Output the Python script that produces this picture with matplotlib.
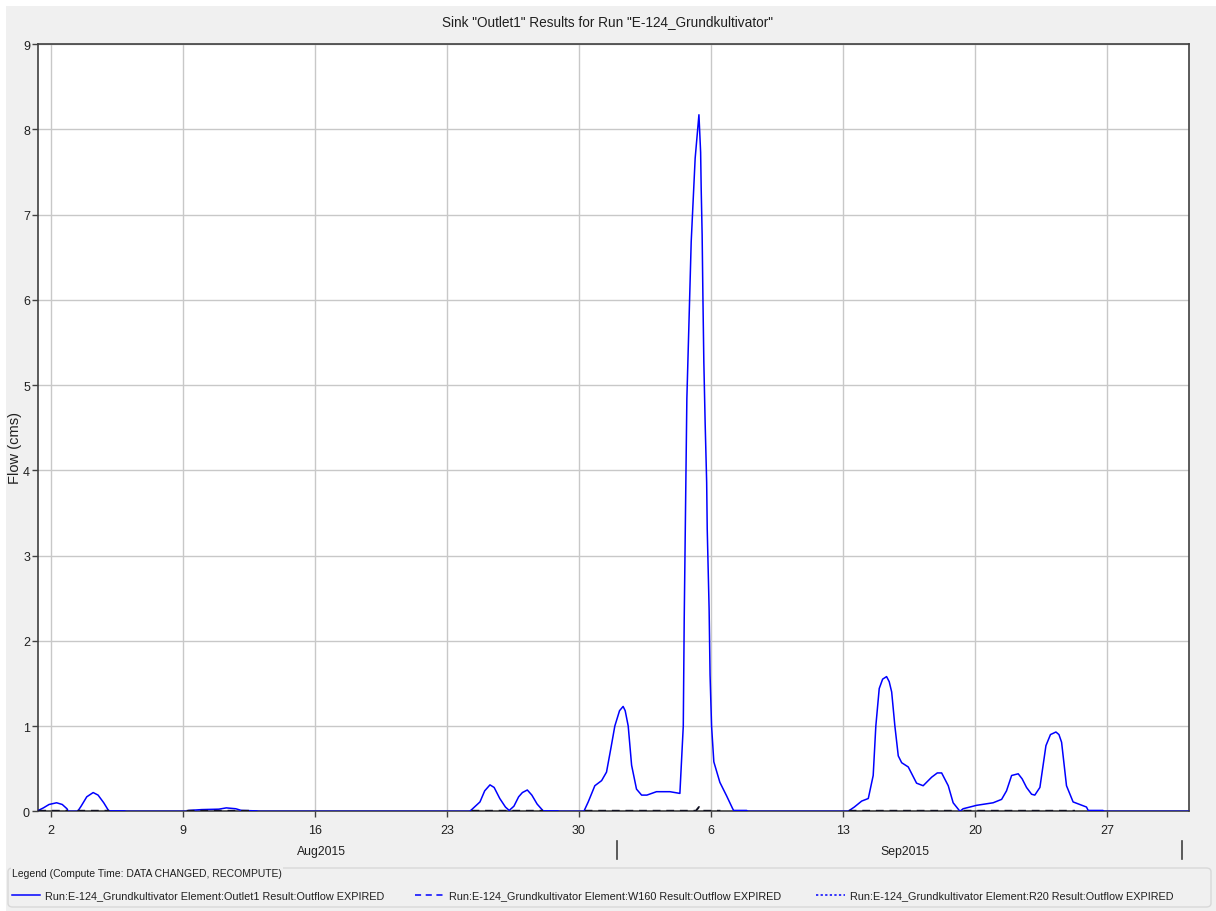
import numpy as np
import matplotlib
matplotlib.use("Agg")
import matplotlib.pyplot as plt
import matplotlib.dates as mdates
import matplotlib.transforms as mtransforms
from matplotlib.lines import Line2D
from matplotlib.patches import Rectangle, FancyBboxPatch
from datetime import datetime

plt.rcParams['font.family'] = ['Liberation Sans', 'DejaVu Sans']

# days since 2015-08-01 00:00
outlet_days = [0.33, 0.6, 0.9, 1.30, 1.6, 1.85, 1.92, 2.42, 2.6, 2.9, 3.24, 3.5, 3.8, 4.05, 4.1, 4.9, 5.0,
               8.2, 8.3, 9.0, 9.9, 10.3, 10.8, 11.1, 11.9, 12.0,
               23.2, 23.31, 23.6, 23.75, 24.0, 24.28, 24.5, 24.8, 25.1, 25.30, 25.55, 25.8, 26.0, 26.26,
               26.5, 26.78, 27.0, 27.10, 27.88, 27.95,
               29.26, 29.49, 29.84, 30.20, 30.46, 30.70, 30.90, 31.15, 31.34, 31.45, 31.61, 31.79, 32.05,
               32.32, 32.6, 33.11, 33.82, 34.35, 34.53, 34.58, 34.63, 34.68, 34.72, 34.79, 34.84, 34.88,
               34.95, 35.04, 35.16, 35.36, 35.45, 35.48, 35.53, 35.57, 35.62, 35.69, 35.77, 35.80, 35.85,
               35.90, 35.95, 36.03, 36.15, 36.47, 36.83, 37.15, 37.2, 37.89, 37.95,
               43.27, 43.6, 43.99, 44.34, 44.60, 44.74, 44.92, 45.1, 45.31, 45.45, 45.58, 45.75, 45.93,
               46.11, 46.46, 46.90, 47.25, 47.70, 48.0, 48.23, 48.58, 48.84, 49.20, 49.37, 50.08, 50.96,
               51.41, 51.67, 51.94, 52.29, 52.5, 52.73, 53.0, 53.17, 53.44, 53.76, 54.0, 54.29, 54.45,
               54.59, 54.85, 55.20, 55.91, 56.0, 56.78, 56.85, 61.4]
outlet_flow = [0.01, 0.04, 0.08, 0.10, 0.08, 0.03, 0.0, 0.0, 0.06, 0.17, 0.22, 0.19, 0.10, 0.01, 0.005, 0.005, 0.0,
               0.0, 0.01, 0.02, 0.025, 0.04, 0.03, 0.01, 0.005, 0.0,
               0.0, 0.02, 0.08, 0.11, 0.24, 0.31, 0.28, 0.15, 0.05, 0.01, 0.06, 0.17, 0.22, 0.25,
               0.19, 0.085, 0.03, 0.005, 0.005, 0.0,
               0.0, 0.11, 0.30, 0.36, 0.46, 0.75, 1.0, 1.18, 1.23, 1.18, 1.0, 0.54, 0.26,
               0.19, 0.19, 0.23, 0.23, 0.21, 1.0, 2.26, 3.23, 4.11, 4.84, 5.39, 5.82, 6.13,
               6.68, 7.11, 7.66, 8.17, 7.73, 7.30, 6.76, 6.05, 5.27, 4.55, 3.86, 3.31, 2.84,
               2.37, 1.6, 1.0, 0.58, 0.34, 0.18, 0.03, 0.01, 0.01, 0.0,
               0.0, 0.05, 0.12, 0.15, 0.42, 1.0, 1.44, 1.55, 1.58, 1.52, 1.40, 1.0, 0.65,
               0.57, 0.52, 0.33, 0.30, 0.40, 0.45, 0.45, 0.30, 0.10, 0.0, 0.03, 0.07, 0.10,
               0.14, 0.24, 0.42, 0.44, 0.38, 0.28, 0.20, 0.19, 0.28, 0.77, 0.90, 0.93, 0.90,
               0.81, 0.30, 0.11, 0.05, 0.01, 0.01, 0.0, 0.0]

# W160 outflow, only non-zero during the events
w160_days = [0.33, 1.9, np.nan, 2.4, 4.1, np.nan, 8.2, 11.8, np.nan, 23.3, 27.1, np.nan,
             29.3, 35.2, 35.36, 35.5, 36.5, np.nan, 43.3, 48.9, np.nan, 49.4, 55.3]
w160_flow = [0.006, 0.006, np.nan, 0.006, 0.006, np.nan, 0.006, 0.006, np.nan, 0.006, 0.006, np.nan,
             0.006, 0.006, 0.05, 0.006, 0.006, np.nan, 0.006, 0.006, np.nan, 0.006, 0.006]

y_ticks = [0, 1, 2, 3, 4, 5, 6, 7, 8, 9]
title = 'Sink "Outlet1" Results for Run "E-124_Grundkultivator"'
legend_title = 'Legend (Compute Time: DATA CHANGED, RECOMPUTE)'
legend_labels = ['Run:E-124_Grundkultivator Element:Outlet1 Result:Outflow EXPIRED',
                 'Run:E-124_Grundkultivator Element:W160 Result:Outflow EXPIRED',
                 'Run:E-124_Grundkultivator Element:R20 Result:Outflow EXPIRED']

W, H = 1216, 912
fig = plt.figure(figsize=(W / 100, H / 100), dpi=100, facecolor='white')

# grey panel
fig.patches.append(Rectangle((6 / W, 0), 1 - 6 / W, 1 - 7 / H, transform=fig.transFigure,
                             facecolor='#f0f0f0', edgecolor='none', zorder=-10))

ax = fig.add_axes([38.3 / W, 1 - 812.3 / H, (1188.7 - 38.3) / W, (812.3 - 45) / H])
ax.set_facecolor('white')

base = mdates.date2num(datetime(2015, 8, 1))
t_out = base + np.array(outlet_days)
t_w = base + np.array(w160_days)

ax.plot(t_out, outlet_flow, color='#0000ff', lw=1.1, zorder=3)
ax.plot(t_w, w160_flow, color='#101020', lw=1.4, ls=(0, (4, 3)), zorder=4)

ax.set_xlim(base + 0.33, base + 61.33)
ax.set_ylim(0, 9)
ax.set_yticks(y_ticks)
ax.xaxis.set_major_locator(mdates.WeekdayLocator(byweekday=mdates.SU))
ax.xaxis.set_major_formatter(plt.FuncFormatter(lambda x, p: str(mdates.num2date(x).day)))
ax.grid(True, color='#c8c8c8', lw=1.0)
ax.set_axisbelow(True)
ax.tick_params(axis='both', length=4, width=1, color='#404040', labelsize=9, labelcolor='#202020')
ax.tick_params(axis='x', pad=5)
ax.tick_params(axis='y', pad=2)
for s in ax.spines.values():
    s.set_color('#404040')
    s.set_linewidth(1.2)

ax.set_ylabel('Flow (cms)', fontsize=10.5, color='#202020')
ax.yaxis.set_label_coords(-16.5 / 1150, (812.3 - 448) / 767.3)

# month labels and separators
trans = mtransforms.blended_transform_factory(ax.transData, ax.transAxes)
for d in [datetime(2015, 9, 1), datetime(2015, 10, 1)]:
    xd = mdates.date2num(d)
    ax.plot([xd, xd], [-29.4 / 767.3, -47.7 / 767.3], color='#404040', lw=1.2,
            transform=trans, clip_on=False)
ax.text(base + 15.32, -39.5 / 767.3, 'Aug2015', transform=trans, ha='center', va='center',
        fontsize=8.8, color='#202020')
ax.text(base + 46.28, -39.5 / 767.3, 'Sep2015', transform=trans, ha='center', va='center',
        fontsize=8.8, color='#202020')

fig.text(607 / W, 1 - 22 / H, title, ha='center', va='center', fontsize=9.8, color='#202020')

# legend box
fig.patches.append(FancyBboxPatch((8 / W, 1 - 908 / H), (1211 - 8) / W, (908 - 869) / H,
                                  boxstyle='round,pad=0,rounding_size=0.004', transform=fig.transFigure,
                                  facecolor='#f0f0f0', edgecolor='#d8d8d8', lw=1.0))
fig.text(12 / W, 1 - 874 / H, legend_title, ha='left', va='center',
         fontsize=7.5, color='#202020', bbox=dict(facecolor='#f0f0f0', edgecolor='none', pad=1))
leg_y = 1 - 896 / H
styles = ['-', (0, (4, 3)), (0, (1.5, 1.5))]
line_x = [(12, 40), (415, 443), (816, 845)]
text_x = [45, 449, 850]
for lab, st, (x0, x1), tx in zip(legend_labels, styles, line_x, text_x):
    fig.lines.append(Line2D([x0 / W, x1 / W], [leg_y, leg_y], transform=fig.transFigure,
                            color='#0000ff', lw=1.1, ls=st))
    fig.text(tx / W, leg_y, lab, ha='left', va='center', fontsize=7.8, color='#202020')

fig.savefig('out.png', dpi=100, facecolor=fig.get_facecolor())
